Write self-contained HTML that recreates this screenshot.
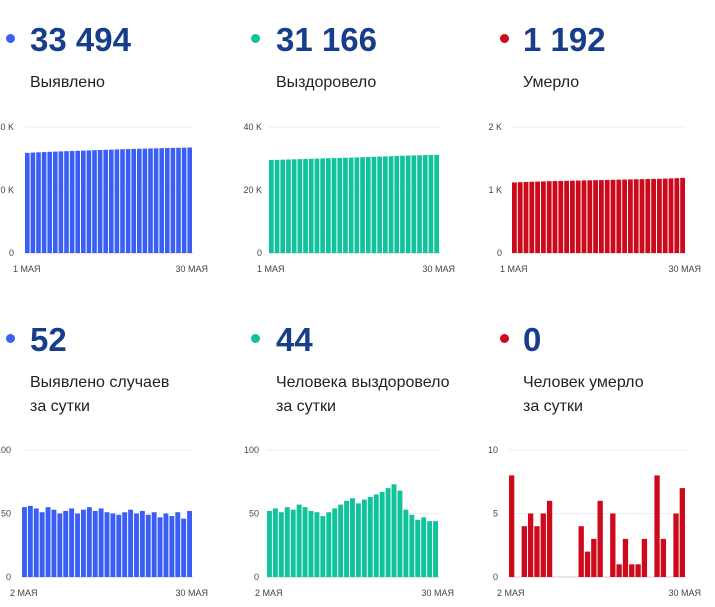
<!DOCTYPE html>
<html><head><meta charset="utf-8"><style>
body{margin:0;background:#fff;width:715px;height:607px;overflow:hidden;font-family:"Liberation Sans",sans-serif;position:relative}
.dot{position:absolute;width:9px;height:9px;border-radius:50%}
.num{position:absolute;font-size:33px;font-weight:bold;color:#173e8c;line-height:1}
.lbl{position:absolute;font-size:16px;color:#222;line-height:24px}
svg{position:absolute;left:0;top:0}
</style></head><body>
<div class="dot" style="left:6px;top:34px;background:#3b5ef5"></div>
<div class="num" style="left:30px;top:23px">33 494</div>
<div class="lbl" style="left:30px;top:71px">Выявлено</div>
<div class="dot" style="left:251px;top:34px;background:#10c39a"></div>
<div class="num" style="left:276px;top:23px">31 166</div>
<div class="lbl" style="left:276px;top:71px">Выздоровело</div>
<div class="dot" style="left:500px;top:34px;background:#cc0a1c"></div>
<div class="num" style="left:523px;top:23px">1 192</div>
<div class="lbl" style="left:523px;top:71px">Умерло</div>

<div class="dot" style="left:6px;top:334px;background:#3b5ef5"></div>
<div class="num" style="left:30px;top:323px">52</div>
<div class="lbl" style="left:30px;top:371px">Выявлено случаев<br>за сутки</div>
<div class="dot" style="left:251px;top:334px;background:#10c39a"></div>
<div class="num" style="left:276px;top:323px">44</div>
<div class="lbl" style="left:276px;top:371px">Человека выздоровело<br>за сутки</div>
<div class="dot" style="left:500px;top:334px;background:#cc0a1c"></div>
<div class="num" style="left:523px;top:323px">0</div>
<div class="lbl" style="left:523px;top:371px">Человек умерло<br>за сутки</div>

<svg id="s" width="715" height="607" xmlns="http://www.w3.org/2000/svg"></svg>
<script>
const cumConfirmed=[31800,31880,31960,32040,32110,32180,32250,32320,32390,32450,32510,32570,32640,32700,32760,32820,32880,32940,32990,33040,33090,33140,33190,33240,33290,33330,33370,33410,33450,33494];
const cumRecovered=[29500,29560,29620,29680,29740,29800,29860,29920,29980,30030,30080,30130,30180,30230,30290,30350,30410,30470,30530,30600,30670,30740,30810,30870,30930,30980,31030,31080,31120,31166];
const cumDeaths=[1120,1124,1128,1131,1134,1137,1140,1142,1144,1146,1148,1150,1152,1154,1156,1158,1160,1162,1164,1166,1168,1170,1172,1174,1176,1178,1181,1184,1188,1192];
const dayConfirmed=[55,56,54,51,55,53,50,52,54,50,53,55,52,54,51,50,49,51,53,50,52,49,51,47,50,48,51,46,52];
const dayRecovered=[52,54,51,55,53,57,55,52,51,48,51,54,57,60,62,58,61,63,65,67,70,73,68,53,49,45,47,44,44];
const dayDeaths=[8,0,4,5,4,5,6,0,0,0,0,4,2,3,6,0,5,1,3,1,1,3,0,8,3,0,5,7];
const ticksK=["0","20 K","40 K"],ticksK2=["0","1 K","2 K"],ticks100=["0","50","100"],ticks10=["0","5","10"];
const NS="http://www.w3.org/2000/svg",svg=document.getElementById('s');
function mk(t,a){const e=document.createElementNS(NS,t);for(const k in a)e.setAttribute(k,a[k]);svg.appendChild(e);return e;}
function chart(id,vals,max,ticks,x0,x1,yTop,yBase,color,labL,labR,tickRight){
  const y=v=>yBase-(v/max)*(yBase-yTop);
  ticks.forEach((t,i)=>{const v=max*i/(ticks.length-1),yy=y(v);
    const g=mk('line',{x1:x0,x2:x1,y1:yy,y2:yy,stroke:i==0?'#ccc':'#eee','stroke-width':1});
    
    const tx=mk('text',{x:tickRight,y:yy+3,'text-anchor':'end','font-size':9,fill:'#444'});tx.textContent=t;
    });
  const w=(x1-x0)/vals.length;
  vals.forEach((v,i)=>{if(v<=0)return;const r=mk('rect',{x:x0+i*w,y:y(v),width:w-1,height:yBase-y(v),fill:color});
    });
  const a=mk('text',{x:x0-12,y:yBase+19,'font-size':9,fill:'#444'});a.textContent=labL;
  
  const b=mk('text',{x:x1+15,y:yBase+19,'text-anchor':'end','font-size':9,fill:'#444'});b.textContent=labR;
  
}
chart('confirmed-chart',cumConfirmed,40000,ticksK,25,193,127,253,'#3b5ef5','1 МАЯ','30 МАЯ',14);
chart('recovered-chart',cumRecovered,40000,ticksK,269,440,127,253,'#10c39a','1 МАЯ','30 МАЯ',262);
chart('deaths-chart',cumDeaths,2000,ticksK2,512,686,127,253,'#cc0a1c','1 МАЯ','30 МАЯ',502);
chart('daily-confirmed-chart',dayConfirmed,100,ticks100,22,193,450,577,'#3b5ef5','2 МАЯ','30 МАЯ',11);
chart('daily-recovered-chart',dayRecovered,100,ticks100,267,439,450,577,'#10c39a','2 МАЯ','30 МАЯ',259);
chart('daily-deaths-chart',dayDeaths,10,ticks10,509,686,450,577,'#cc0a1c','2 МАЯ','30 МАЯ',498);
</script>
</body></html>
